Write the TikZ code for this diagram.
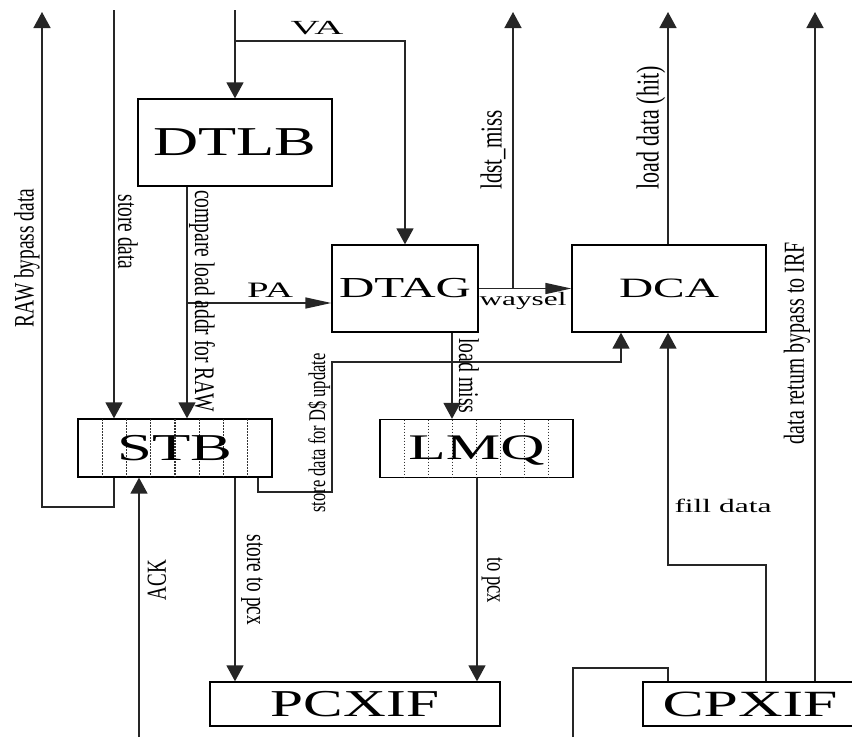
\documentclass[tikz,border=0pt]{standalone}
\usepackage{fontspec}
\setmainfont{Liberation Serif}
\usepackage{graphicx}
\usetikzlibrary{arrows.meta}
\newcommand\hw[2]{\resizebox{#1}{\height}{#2}}
\newcommand\vt[1]{\scalebox{1}[1.45]{#1}}
\newcommand\fs[1]{\fontsize{#1}{#1}\selectfont}
\begin{document}
\begin{tikzpicture}[x=1pt,y=-1pt,
  blk/.style={draw=black, line width=1.3pt, inner sep=0pt, fill=white},
  wire/.style={draw=black!85, line width=1.5pt},
  vtip/.style={-{Triangle[length=16pt,width=17pt]}},
  htip/.style={-{Triangle[length=26pt,width=11pt]}},
  lab/.style={inner sep=0pt, text=black},
  cell/.style={draw=black!80, line width=1.1pt, dash pattern=on 1.6pt off 1.4pt}
]
\useasboundingbox (0,0) rectangle (852,737);
\fill[white] (0,0) rectangle (852,737);
\clip (0,0) rectangle (852,737);

% boxes
\node[blk, minimum width=194pt, minimum height=87pt] (dtlb) at (235,142.5) {\fs{41}\hw{163pt}{DTLB}};
\node[blk, minimum width=146pt, minimum height=87pt] (dtag) at (405,288.5) {\fs{29}\hw{132pt}{DTAG}};
\node[blk, minimum width=194pt, minimum height=87pt] (dca) at (669,288.5) {\fs{28}\hw{100pt}{DCA}};
\node[blk, minimum width=194pt, minimum height=58pt] (stb) at (175,448) {};
\node[blk, minimum width=193pt, minimum height=58pt] (lmq) at (476.5,448.5) {};
\node[blk, minimum width=290pt, minimum height=44pt] (pcxif) at (355,704) {\fs{38}\hw{168pt}{PCXIF}};
\node[blk, minimum width=257pt, minimum height=44pt] (cpxif) at (771.5,704) {};
\node[lab] (cpxiftxt) at (750,704) {\fs{37}\hw{175pt}{CPXIF}};

% queue cells
\foreach \i in {1,...,7}{
  \draw[cell] (78+\i*24.25,419) -- (78+\i*24.25,477);
  \draw[cell] (380+\i*24.1,419.5) -- (380+\i*24.1,477.5);
}
\node[lab] (stbtxt) at (175,448) {\fs{38}\hw{115pt}{STB}};
\node[lab] (lmqtxt) at (476.5,450) {\fs{36}\hw{136pt}{LMQ}};

% coordinates
\coordinate (c114) at (114,0);
\coordinate (c187) at (187,0);
\coordinate (c235) at (235,0);
\coordinate (c258) at (258,0);
\coordinate (c452) at (452,0);
\coordinate (c477) at (477,0);
\coordinate (c621) at (621,0);
\coordinate (c668) at (668,0);
\coordinate (rawbend) at (42,507);
\coordinate (rawtop) at (42,12);
\coordinate (sdtop) at (114,10);
\coordinate (vatop) at (235,10);
\coordinate (vabranch) at (235,41);
\coordinate (pabranch) at (187,303);
\coordinate (lmtop) at (513,12);
\coordinate (ldtop) at (668,12);
\coordinate (drtop) at (815,12);
\coordinate (dsA) at (332,492);
\coordinate (dsB) at (332,362);
\coordinate (ackbot) at (139,737);
\coordinate (fdbend) at (766,565);
\coordinate (cpbot) at (573,737);
\coordinate (cpbend) at (573,668);

% connectors
\draw[wire,vtip] (stb.south -| c114) |- (rawbend) -- (rawtop);
\draw[wire,vtip] (sdtop) -- (stb.north -| sdtop);
\draw[wire,vtip] (vatop) -- (dtlb.north -| vatop);
\draw[wire,vtip] (vabranch) -| (dtag.north);
\draw[wire,vtip] (dtlb.south -| c187) -- (stb.north -| c187);
\draw[wire,htip] (pabranch) -- (dtag.west |- pabranch);
\draw[wire,htip] (dtag.east) -- (dca.west);
\draw[wire,vtip] (lmtop |- dtag.east) -- (lmtop);
\draw[wire,vtip] (dca.north -| ldtop) -- (ldtop);
\draw[wire,vtip] (cpxif.north -| drtop) -- (drtop);
\draw[wire,vtip] (stb.south -| c258) |- (dsA) -- (dsB) -| (dca.south -| c621);
\draw[wire,vtip] (dtag.south -| c452) -- (lmq.north -| c452);
\draw[wire,vtip] (ackbot) -- (stb.south -| ackbot);
\draw[wire,vtip] (stb.south -| c235) -- (pcxif.north -| c235);
\draw[wire,vtip] (lmq.south -| c477) -- (pcxif.north -| c477);
\draw[wire,vtip] (cpxif.north -| fdbend) -- (fdbend) -| (dca.south -| c668);
\draw[wire] (cpbot) -- (cpbend) -| (cpxif.north -| c668);

% horizontal labels
\node[lab] (lva) at (317,28) {\fs{20}\hw{53pt}{VA}};
\node[lab] (lpa) at (270,290) {\fs{22}\hw{46pt}{PA}};
\node[lab] (lway) at (523,301) {\fs{19}\hw{87pt}{waysel}};
\node[lab] (lfill) at (723,506) {\fs{19}\hw{97pt}{fill data}};

% vertical labels
\node[lab, rotate=90] (lraw) at (27,258) {\fs{19.4}\vt{RAW bypass data}};
\node[lab, rotate=-90] (lsd) at (128,232) {\fs{19.4}\vt{store data}};
\node[lab, rotate=-90] (lcmp) at (202,301) {\fs{19.5}\vt{compare load addr for RAW}};
\node[lab, rotate=90] (lldst) at (493,150) {\fs{21}\vt{ldst\_miss}};
\node[lab, rotate=90] (lhit) at (651,128) {\fs{22}\vt{load data (hit)}};
\node[lab, rotate=90] (lret) at (797,343) {\fs{20}\vt{data return bypass to IRF}};
\node[lab, rotate=90] (lds) at (319,433) {\fs{16.5}\vt{store data for D\$ update}};
\node[lab, rotate=-90] (lmiss) at (469,376) {\fs{19.7}\vt{load miss}};
\node[lab, rotate=90] (lack) at (157,580) {\fs{19}\vt{ACK}};
\node[lab, rotate=-90] (lstp) at (252,580) {\fs{19.3}\vt{store to pcx}};
\node[lab, rotate=-90] (ltp) at (492,580) {\fs{18.6}\vt{to pcx}};
\end{tikzpicture}
\end{document}
